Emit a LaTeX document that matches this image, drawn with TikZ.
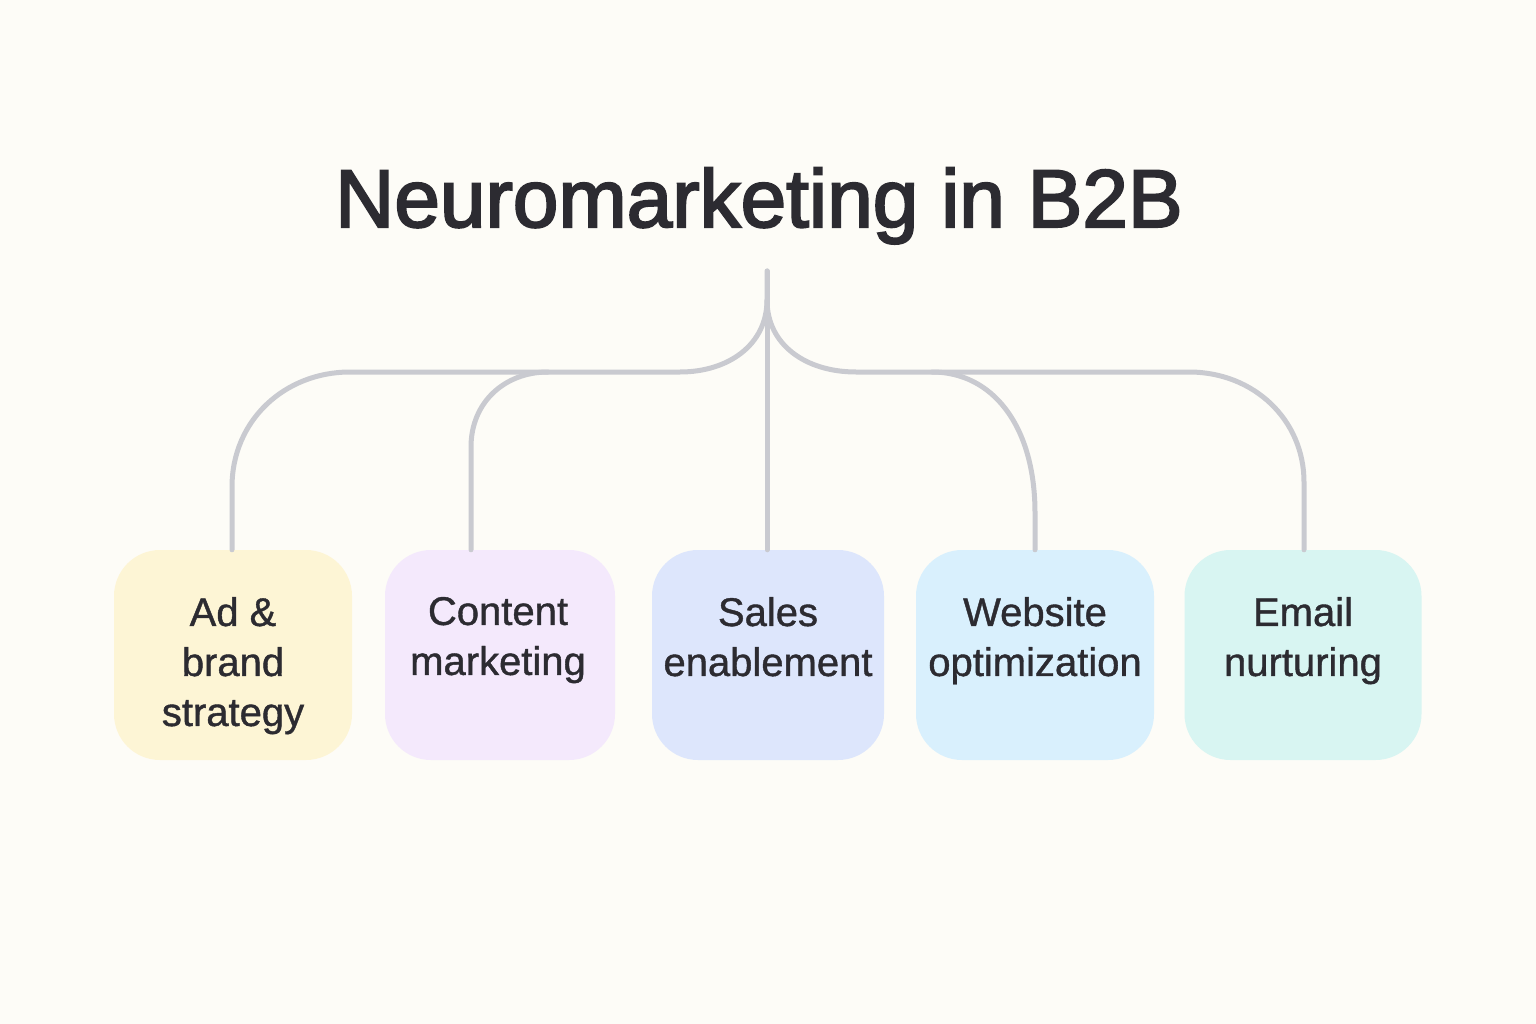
\documentclass[tikz,border=0pt]{standalone}
\usepackage{fontspec}
\setmainfont{Liberation Sans}
\newfontfamily\titlefont[FakeBold=2.5]{Liberation Sans}
\newfontfamily\boxfont[FakeBold=1]{Liberation Sans}
\usetikzlibrary{calc}
\definecolor{bgc}{HTML}{FDFCF7}
\definecolor{txt}{HTML}{2C2B31}
\definecolor{wire}{HTML}{C9CAD0}
\definecolor{cyel}{HTML}{FDF5D5}
\definecolor{clav}{HTML}{F4E9FC}
\definecolor{cblu}{HTML}{DDE6FC}
\definecolor{csky}{HTML}{D9F0FD}
\definecolor{cmnt}{HTML}{D8F5F2}
\tikzset{
  card/.style={rectangle, rounded corners=46pt, minimum height=210pt, inner sep=0pt, draw=none},
  cardtext/.style={anchor=north, align=center, text=txt, font=\boxfont\fontsize{40}{50}\selectfont, inner sep=0pt},
  wirestyle/.style={draw=wire, line width=5pt, line cap=round, line join=round},
}
\begin{document}
\begin{tikzpicture}[x=1pt,y=-1pt]
\fill[bgc] (0,0) rectangle (1536,1024);
\useasboundingbox (0,0) rectangle (1536,1024);

\node[anchor=base, text=txt, font=\titlefont\fontsize{82}{90}\selectfont, inner sep=0pt] (title) at (759,227) {Neuromarketing in B2B};

\node[card, fill=cyel, minimum width=238pt] (ad) at (233,655) {};
\node[card, fill=clav, minimum width=230pt] (content) at (500,655) {};
\node[card, fill=cblu, minimum width=232pt] (sales) at (768,655) {};
\node[card, fill=csky, minimum width=238pt] (web) at (1035,655) {};
\node[card, fill=cmnt, minimum width=237pt] (email) at (1303,655) {};

\node[cardtext] (adt) at ($(ad.north)+(0,47)$) {Ad \&\\brand\\strategy};
\node[cardtext] (contentt) at ($(content.north)+(-2,47)$) {Content\\marketing};
\node[cardtext] (salest) at ($(sales.north)+(0,47)$) {Sales\\enablement};
\node[cardtext] (webt) at ($(web.north)+(0,47)$) {Website\\optimization};
\node[cardtext] (emailt) at ($(email.north)+(0,47)$) {Email\\nurturing};

\coordinate (top) at (767,271);
\coordinate (split) at (767,300);
\coordinate (hl) at (680,372);
\coordinate (hlend) at (350,372);
\coordinate (adk) at (232,487);
\coordinate (cbr) at (548,372);
\coordinate (ck) at (471,447);
\coordinate (hr) at (856,372);
\coordinate (hrend) at (1189,372);
\coordinate (ek) at (1304,482);
\coordinate (wbr) at (932,372);
\coordinate (wk) at (1035,513);

\draw[wirestyle] (top) -- (top |- sales.north);
\draw[wirestyle] (top) -- (split) .. controls (767,345) and (728,372) .. (hl) -- (hlend)
  .. controls (285,372) and (232,420) .. (adk) -- (adk |- ad.north);
\draw[wirestyle] (cbr) .. controls (505,372) and (471,402) .. (ck) -- (ck |- content.north);
\draw[wirestyle] (split) .. controls (767,345) and (806,372) .. (hr) -- (hrend)
  .. controls (1254,372) and (1304,420) .. (ek) -- (ek |- email.north);
\draw[wirestyle] (wbr) .. controls (992,372) and (1035,425) .. (wk) -- (wk |- web.north);
\end{tikzpicture}
\end{document}
